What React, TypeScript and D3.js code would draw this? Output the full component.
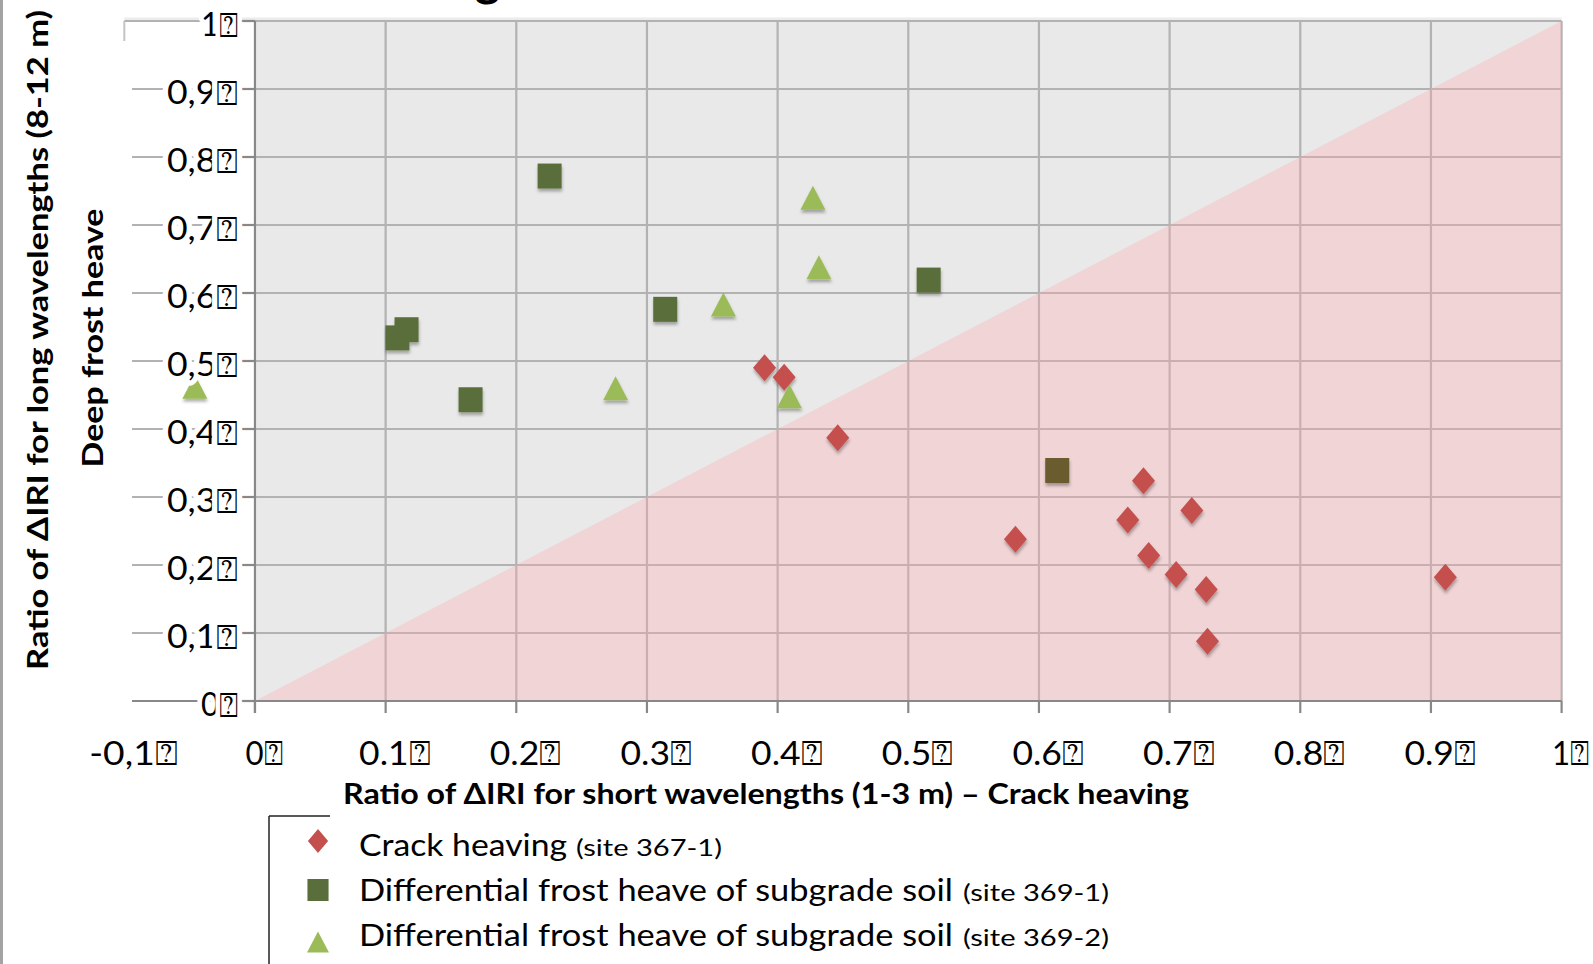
import * as d3 from "d3";
import React from "react";

const W = 1593;
const H = 964;

// Crack heaving (site 367-1)
const crackX = [0.39, 0.405, 0.446, 0.68, 0.717, 0.668, 0.582, 0.684, 0.705, 0.728, 0.911, 0.729];
const crackY = [0.49, 0.476, 0.387, 0.324, 0.28, 0.266, 0.238, 0.214, 0.186, 0.164, 0.182, 0.088];

// Differential frost heave of subgrade soil (site 369-1)
const site1X = [0.2255, 0.109, 0.116, 0.165, 0.314, 0.5156, 0.614];
const site1Y = [0.772, 0.534, 0.546, 0.443, 0.576, 0.619, 0.339];

// Differential frost heave of subgrade soil (site 369-2)
const site2X = [-0.046, 0.427, 0.4316, 0.3585, 0.276, 0.409];
const site2Y = [0.462, 0.74, 0.638, 0.583, 0.46, 0.448];

const xTicks = [-0.1, 0, 0.1, 0.2, 0.3, 0.4, 0.5, 0.6, 0.7, 0.8, 0.9, 1];
const xTickLabels = ["-0,1", "0", "0.1", "0.2", "0.3", "0.4", "0.5", "0.6", "0.7", "0.8", "0.9", "1"];
const yTicks = [0, 0.1, 0.2, 0.3, 0.4, 0.5, 0.6, 0.7, 0.8, 0.9, 1];
const yTickLabels = ["0", "0,1", "0,2", "0,3", "0,4", "0,5", "0,6", "0,7", "0,8", "0,9", "1"];

const legendItems = [
  { main: "Crack heaving", site: "(site 367-1)", shape: "diamond" },
  { main: "Differential frost heave of subgrade soil", site: "(site 369-1)", shape: "square" },
  { main: "Differential frost heave of subgrade soil", site: "(site 369-2)", shape: "triangle" },
];

const BOX = "\u2370"; // missing-glyph box seen after every tick label
const FONT = "Lato, 'Open Sans', sans-serif";
const RED = "#c4504e";
const OLIVE = "#5a6e3b";
const OLIVE_PINK = "#6a5b2d";
const LIGHT = "#9bbb59";
const GRID = "#b2b2b2";
const AXIS = "#888888";

function markerPath(shape: string, cx: number, cy: number, s = 1) {
  const p = d3.path();
  if (shape === "diamond") {
    const w = 11.5 * s, h = 13.5 * s;
    p.moveTo(cx, cy - h); p.lineTo(cx + w, cy); p.lineTo(cx, cy + h); p.lineTo(cx - w, cy); p.closePath();
  } else if (shape === "square") {
    p.rect(cx - 12 * s, cy - 12.5 * s, 24 * s, 25 * s);
  } else {
    const w = 12.5 * s, h = 12 * s;
    p.moveTo(cx, cy - h); p.lineTo(cx + w, cy + h); p.lineTo(cx - w, cy + h); p.closePath();
  }
  return p.toString();
}

export default function App() {
  const x = d3.scaleLinear().domain([-0.1, 1]).range([124.3, 1561.6]);
  const y = d3.scaleLinear().domain([0, 1]).range([701, 21]);

  const crack = crackX.map((v, i) => ({ x: v, y: crackY[i] }));
  const site1 = site1X.map((v, i) => ({ x: v, y: site1Y[i] }));
  const site2 = site2X.map((v, i) => ({ x: v, y: site2Y[i] }));

  const pink = d3.line()([
    [x(0), y(0)],
    [x(1), y(0)],
    [x(1), y(1)],
  ]) + "Z";

  return (
    <svg width={W} height={H} style={{ position: "absolute", left: 0, top: 0, background: "#fff" }}
      fontFamily={FONT}>
      <defs>
        <filter id="shadow" x="-50%" y="-50%" width="200%" height="200%">
          <feDropShadow dx="0.5" dy="3" stdDeviation="1.8" floodColor="#000" floodOpacity="0.3" />
        </filter>
      </defs>

      {/* chart title, cropped at the top edge */}
      <text x={500} y={-4} textAnchor="end" fontSize={48} fontWeight={700} fill="#000">g</text>

      {/* page edge */}
      <rect x={0} y={0} width={3} height={H} fill="#a3a3a3" />

      {/* plot area */}
      <rect x={x(0)} y={y(1)} width={x(1) - x(0)} height={y(0) - y(1)} fill="#e9e9e9" />
      <line x1={x(-0.1)} x2={x(1)} y1={y(1) - 2} y2={y(1) - 2} stroke="#ececec" strokeWidth={3} />

      {/* gridlines */}
      {yTicks.filter(t => t > 0).map(t => (
        <line key={"gy" + t} x1={x(-0.1)} x2={x(1)} y1={y(t)} y2={y(t)} stroke={GRID} strokeWidth={2.2} />
      ))}
      {xTicks.filter(t => t > 0).map(t => (
        <line key={"gx" + t} x1={x(t)} x2={x(t)} y1={y(1)} y2={y(0)} stroke={GRID} strokeWidth={2.2} />
      ))}
      <line x1={x(-0.1)} x2={x(-0.1)} y1={y(1)} y2={y(0)} stroke="#c4c4c4" strokeWidth={2} />

      {/* crack heaving zone */}
      <path d={pink} fill="rgba(255,167,174,0.32)" />

      {/* axes */}
      <line x1={x(0)} x2={x(0)} y1={y(1)} y2={y(0) + 12} stroke={AXIS} strokeWidth={2.2} />
      <line x1={x(-0.1)} x2={x(1)} y1={y(0)} y2={y(0)} stroke={AXIS} strokeWidth={2.2} />
      {yTicks.map(t => (
        <line key={"ty" + t} x1={x(0) - 17} x2={x(0)} y1={y(t)} y2={y(t)} stroke={AXIS} strokeWidth={2.2} />
      ))}
      {xTicks.map(t => (
        <line key={"tx" + t} x1={x(t)} x2={x(t)} y1={y(0)} y2={y(0) + 12} stroke={AXIS} strokeWidth={2.2} />
      ))}

      {/* markers */}
      <g filter="url(#shadow)">
        {site1.map((d, i) => (
          <path key={"s1" + i} d={markerPath("square", x(d.x), y(d.y))}
            fill={d.y < d.x ? OLIVE_PINK : OLIVE} />
        ))}
        {site2.map((d, i) => (
          <path key={"s2" + i} d={markerPath("triangle", x(d.x), y(d.y))} fill={LIGHT} />
        ))}
        {crack.map((d, i) => (
          <path key={"c" + i} d={markerPath("diamond", x(d.x), y(d.y))} fill={RED} />
        ))}
      </g>

      {/* y tick labels */}
      {yTicks.map((t, i) => (
        <text key={"ly" + t} x={x(0) - 17} y={y(t) + 2} textAnchor="end" dominantBaseline="central"
          fontSize={33} fill="#000" stroke="#fff" strokeWidth={10} strokeLinejoin="round"
          style={{ paintOrder: "stroke" }} textLength={yTickLabels[i].length * 17 + 20} lengthAdjust="spacingAndGlyphs">
          {yTickLabels[i]}<tspan fontSize={34}>{BOX}</tspan>
        </text>
      ))}

      {/* y axis title */}
      <rect x={6} y={41} width={126} height={700} fill="#fff" />
      <text transform={`translate(48,340) rotate(-90)`} textAnchor="middle" fontSize={29} fontWeight={700}
        textLength={660} lengthAdjust="spacingAndGlyphs">
        Ratio of ΔIRI for long wavelengths (8-12 m)
      </text>
      <text transform={`translate(103,338) rotate(-90)`} textAnchor="middle" fontSize={29} fontWeight={700}
        textLength={259} lengthAdjust="spacingAndGlyphs">
        Deep frost heave
      </text>

      {/* x tick labels */}
      {xTicks.map((t, i) => (
        <text key={"lx" + t} x={x(t) + 9} y={765} textAnchor="middle" fontSize={33} fill="#000"
          textLength={xTickLabels[i].length * 17 + 20} lengthAdjust="spacingAndGlyphs">
          {xTickLabels[i]}<tspan fontSize={34}>{BOX}</tspan>
        </text>
      ))}

      {/* legend frame */}
      <line x1={269} x2={269} y1={816} y2={H} stroke="#222" strokeWidth={1.5} />
      <line x1={269} x2={330} y1={816} y2={816} stroke="#222" strokeWidth={1.5} />

      {/* x axis title */}
      <rect x={323} y={772} width={880} height={40} fill="#fff" />
      <text x={343} y={804} fontSize={29} fontWeight={700} textLength={846} lengthAdjust="spacingAndGlyphs">
        Ratio of ΔIRI for short wavelengths (1-3 m) – Crack heaving
      </text>

      {/* legend */}
      {legendItems.map((it, i) => {
        const cy = [841, 890, 942][i];
        const base = [856, 901, 946][i];
        const mainW = i === 0 ? 208 : 594;
        const siteX = i === 0 ? 576 : 963;
        const fill = it.shape === "diamond" ? RED : it.shape === "square" ? OLIVE : LIGHT;
        return (
          <g key={"lg" + i}>
            <path d={markerPath(it.shape, 318, cy, 0.88)} fill={fill} />
            <text x={359} y={base} fontSize={30} textLength={mainW} lengthAdjust="spacingAndGlyphs">{it.main}</text>
            <text x={siteX} y={base} fontSize={24} textLength={146} lengthAdjust="spacingAndGlyphs">{it.site}</text>
          </g>
        );
      })}
    </svg>
  );
}
